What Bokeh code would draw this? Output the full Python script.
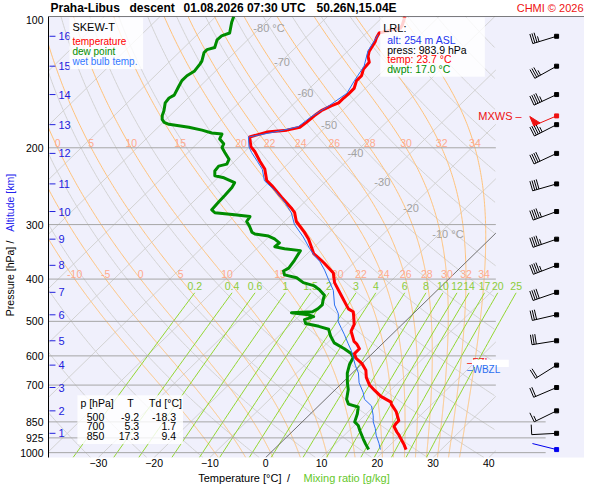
import numpy as np
from bokeh.plotting import figure
from bokeh.layouts import column, row
from bokeh.models import Range1d, FixedTicker, Label, BoxAnnotation, Span
from bokeh.core.properties import value
from bokeh.embed import file_html
from bokeh.resources import INLINE

# ---------------- data ----------------
t_p = [100, 104.7, 106.3, 109.1, 111.9, 114.3, 120.3, 123.4, 127.3, 131.9,
       136.7, 140.3, 146.2, 150.0, 153.8, 157.8, 160.3, 164.4, 168.7, 174.9,
       179.4, 182.2, 184.1, 188.9, 198.8, 204.0, 214.7, 223.7, 237.9, 244.1,
       259.6, 274.7, 281.8, 295.1, 312.2, 323.6, 349.5, 362.2, 367.9, 387.3,
       407.6, 435.6, 468.1, 475.4, 482.8, 500.0, 508.2, 526.8, 556.0, 563.0,
       577.7, 592.7, 608.0, 625.0, 647.0, 672.0, 700.0, 720.0, 742.8, 766.0,
       773.9, 806.0, 845.0, 857.7, 871.0, 898.0, 912.0, 959.8, 983.9]
t_T = [-56.1, -55.0, -54.8, -57.7, -57.3, -56.8, -56.1, -55.4, -54.1, -53.9,
       -53.0, -53.0, -52.0, -52.0, -52.1, -52.1, -52.9, -53.8, -54.1, -54.3,
       -54.6, -56.4, -59.6, -61.8, -59.8, -58.2, -55.5, -53.2, -50.7, -48.9,
       -45.0, -41.3, -39.8, -37.9, -34.5, -32.5, -28.9, -26.3, -25.2, -21.8,
       -19.8, -16.3, -12.5, -11.1, -10.5, -9.2, -8.6, -7.9, -5.5, -4.6,
       -3.2, -3.2, -2.0, 0.0, 1.9, 3.3, 5.3, 7.2, 9.4, 12.3,
       12.7, 15.0, 17.1, 17.1, 17.3, 18.9, 19.8, 22.5, 23.7]

td_p = [100, 103.1, 109.1, 110.8, 113.1, 117.8, 119.1, 120.9, 126.6, 128.6,
        133.3, 136.7, 140.3, 144.7, 151.5, 153.8, 157.8, 164.4, 168.7, 172.2,
        174.9, 176.7, 179.4, 182.2, 185.0, 186.0, 190.9, 195.8, 199.8, 205.0,
        212.5, 218.0, 220.3, 226.0, 231.9, 234.3, 240.4, 246.6, 257.0, 266.3,
        277.5, 281.8, 284.7, 287.6, 295.1, 302.7, 312.2, 315.4, 318.7, 323.6,
        330.4, 337.2, 340.7, 344.2, 362.2, 377.4, 383.2, 391.2, 397.2, 407.6,
        414.0, 422.5, 435.6, 444.6, 458.6, 468.1, 475.4, 477.8, 482.8, 487.7,
        495.3, 505.5, 513.3, 521.3, 540.3, 560.1, 577.7, 592.7, 605.0, 627.1,
        656.9, 691.4, 716.6, 754.4, 773.9, 785.9, 814.6, 850.0, 866.3, 893.3,
        930.7, 954.9, 983.9]
td_T = [-86.8, -86.1, -84.5, -85.4, -85.5, -84.5, -85.5, -85.5, -84.3, -84.1,
        -83.8, -84.3, -84.3, -83.8, -83.0, -83.4, -83.2, -82.0, -81.4, -80.7,
        -79.8, -78.6, -74.5, -71.6, -69.3, -67.3, -66.8, -65.2, -64.8, -63.4,
        -61.4, -60.9, -62.0, -61.8, -60.9, -58.9, -56.1, -55.7, -55.5, -55.4,
        -55.2, -54.1, -50.2, -47.1, -46.8, -45.4, -43.9, -43.0, -40.2, -38.6,
        -37.0, -37.1, -35.0, -31.8, -31.1, -30.7, -31.1, -30.2, -27.5, -25.4,
        -23.0, -21.3, -19.3, -18.8, -17.9, -18.0, -18.4, -22.0, -18.6, -17.3,
        -18.4, -17.5, -14.6, -12.3, -10.7, -8.8, -5.9, -3.8, -2.7, -2.1,
        -0.9, 0.9, 2.3, 3.8, 5.0, 7.3, 8.4, 9.4, 10.7, 12.1,
        14.1, 15.4, 17.0]

tw_p = [110, 120, 130, 140, 150, 160, 170, 179, 183, 189,
        199, 205, 215, 224, 238, 250.4, 266.3, 281.8, 299.7, 320.3,
        340.7, 353.1, 364.1, 381.4, 401.4, 424.6, 458.6, 480.3, 500.5, 518.6,
        535, 563, 583.6, 608, 630.4, 656.9, 691.4, 727.6, 754.4, 781.6,
        823, 849.5, 880, 912, 952, 983.9]
tw_T = [-57.6, -56.4, -54.3, -53.4, -52.4, -53.3, -54.5, -55.0, -57.5, -62.0,
        -60.1, -58.6, -55.9, -53.6, -51.1, -47.5, -43.6, -40.4, -37.7, -33.8,
        -30.5, -28.4, -26.4, -23.9, -21.4, -18.6, -15.7, -13.4, -12.0, -10.2,
        -8.6, -6.1, -4.3, -2.5, -0.9, 1.1, 3.0, 5.5, 7.0, 9.5,
        11.6, 12.7, 14.3, 15.7, 17.7, 19.1]

alt_km = [1, 2, 3, 4, 5, 6, 7, 8, 9, 10, 11, 12, 13, 14, 15, 16]
alt_p = [903, 802, 709, 630, 554, 483, 429, 372, 324, 280, 242, 206, 177, 151, 130, 111]

wind_p = [984, 903, 802, 709, 630, 554, 483, 429, 372, 324, 280, 242, 206, 177, 151, 130, 111]
wind_dir = [284, 267, 244, 247, 238, 261, 257, 251, 249, 251, 250, 254, 245, 243, 245, 241, 253]
wind_kt = [3, 10, 15, 20, 20, 30, 30, 40, 45, 45, 45, 40, 40, 45, 45, 35, 35]
mxws_p, mxws_dir, mxws_kt = 169, 247, 50

fzl_p = 620
wbzl_p = 646

pres_ticks = [100, 200, 300, 400, 500, 600, 700, 850, 925, 1000]
isobar_short = [200, 300, 400, 500, 600, 700]
isobar_long = [850, 925, 1000]
temp_ticks = [-30, -20, -10, 0, 10, 20, 30, 40]
isotherm_T = list(range(-130, 50, 10))
iso_lab_T = [-80, -70, -60, -50, -40, -30, -20, -10]
iso_lab_txt = ["-80 °C", "-70", "-60", "-50", "-40", "-30", "-20", "-10 °C"]
iso_lab_p = [106, 127, 150, 177, 206, 239, 275, 315]
dry_theta = list(range(220, 470, 10))
moist_thw = [-10, -5, 0, 5, 10, 15, 20, 22, 24, 26, 28, 30, 32, 34]
mix_w = [0.2, 0.4, 0.6, 1, 1.5, 2, 3, 4, 6, 8, 10, 12, 14, 17, 20, 25]
mix_txt = ["0.2", "0.4", "0.6", "1", "1.5", "2", "3", "4", "6", "8", "10", "12", "14", "17", "20", "25"]

tab_p = ["500", "700", "850"]
tab_T = ["-9.2", "5.3", "17.3"]
tab_Td = ["-18.3", "1.7", "9.4"]

title_parts = ["Praha-Libus", "descent", "01.08.2026 07:30 UTC", "50.26N,15.04E"]

# ---------------- geometry ----------------
FONT = "Liberation Sans"
PB = 1025.97
LPB = float(np.log10(PB))
K = 449.0 / 5.6
TOTW = 584
HEAD_H, FOOT_H = 15, 13
LEFT_W = 17
MW = TOTW - LEFT_W
MH = 484 - HEAD_H - FOOT_H
BL, BT, BB = 46 - LEFT_W, 1, 14
FW, FH = MW - BL, MH - BT - BB
X0 = (46 - 264) / 5.6
X1 = (TOTW - 264) / 5.6
XS = (495 - 264) / 5.6
XL = (545 - 264) / 5.6
PXX = FW / (X1 - X0)
PXY = FH / (LPB - 2.0)
FTOP = HEAD_H + BT


def skx(T, pp):
    return np.asarray(T, float) + K * (LPB - np.log10(np.asarray(pp, float)))


def ly(pp):
    return np.log10(np.asarray(pp, float))


def DX(xr):
    return (xr - 264) / 5.6


def DY(yr):
    return 2.0 + (yr - 16) / 449.0


def YP(yr):
    return FTOP + (yr - 16) * FH / 454.0


def blank(w, h, xr, yr):
    f = figure(width=w, height=h, x_range=Range1d(*xr), y_range=Range1d(*yr),
               output_backend="svg", toolbar_location=None, min_border=0,
               x_axis_location=None, y_axis_location=None)
    f.outline_line_color = None
    f.grid.visible = False
    f.background_fill_color = "white"
    f.border_fill_color = "white"
    return f


p = figure(width=MW, height=MH, x_range=Range1d(X0, X1), y_range=Range1d(LPB, 2.0),
           output_backend="svg", toolbar_location=None,
           min_border_left=BL, min_border_right=0, min_border_top=BT, min_border_bottom=BB)
p.background_fill_color = "#f0f0fc"
p.border_fill_color = "white"
p.outline_line_color = None
p.grid.visible = False

for ax in (p.xaxis, p.yaxis):
    ax.major_tick_out = 0
    ax.major_tick_in = 0
    ax.minor_tick_out = 0
    ax.minor_tick_in = 0
    ax.major_tick_line_color = None
    ax.minor_tick_line_color = None
    ax.major_label_text_font = FONT
    ax.major_label_text_font_size = "10.5px"
    ax.major_label_text_color = "black"

p.xaxis.ticker = FixedTicker(ticks=temp_ticks)
p.xaxis.axis_line_color = None
p.xaxis.major_label_standoff = 1

yt = [float(v) for v in ly(pres_ticks)]
p.yaxis.ticker = FixedTicker(ticks=yt)
p.yaxis.major_label_overrides = {t: str(v) for t, v in zip(yt, pres_ticks)}
p.yaxis.axis_line_color = "black"
p.yaxis.major_label_standoff = 5

# ---------------- background lines ----------------
GRAY = "#d2d2d2"
xs, ys = [], []
for T in isotherm_T:
    if T == 0 or T > XS:
        continue
    top = max(LPB - (XS - T) / K, 2.0)
    pp = np.array([PB, 10 ** top])
    xs.append(list(skx(T, pp)))
    ys.append(list(ly(pp)))
p.multi_line(xs, ys, line_color=GRAY, line_width=1)

pg = np.geomspace(PB, 100, 300)
xs, ys = [], []
for th in dry_theta:
    T = th * (pg / 1000.0) ** 0.2857 - 273.15
    X = skx(T, pg)
    X = np.where(X > XS, np.nan, X)
    xs.append(list(X))
    ys.append(list(ly(pg)))
p.multi_line(xs, ys, line_color=GRAY, line_width=1)


def pseudo(thw):
    Rd, Cp, Lv, eps = 287.04, 1005.7, 2.501e6, 0.622

    def f(T, pp):
        es = 6.112 * np.exp(17.67 * (T - 273.15) / (T - 29.65))
        rs = eps * es / (pp - es)
        return (Rd * T + Lv * rs) / (Cp + Lv * Lv * rs * eps / (Rd * T * T)) / pp

    def integ(ps):
        T = np.array(thw, float) + 273.15
        out = [T.copy()]
        for i in range(len(ps) - 1):
            p0 = ps[i]
            h = ps[i + 1] - p0
            k1 = f(T, p0)
            k2 = f(T + 0.5 * h * k1, p0 + 0.5 * h)
            k3 = f(T + 0.5 * h * k2, p0 + 0.5 * h)
            k4 = f(T + h * k3, p0 + h)
            T = T + h * (k1 + 2 * k2 + 2 * k3 + k4) / 6.0
            out.append(T.copy())
        return np.array(out)

    up_p = np.linspace(1000, 100, 451)
    dn_p = np.linspace(1000, PB, 14)
    up = integ(up_p)
    dn = integ(dn_p)
    ps = np.concatenate([dn_p[::-1], up_p[1:]])
    Ts = np.concatenate([dn[::-1], up[1:]]) - 273.15
    return ps, Ts


mp, mT = pseudo(moist_thw)
xs, ys = [], []
lab200x, lab400x = [], []
for j, th in enumerate(moist_thw):
    X = skx(mT[:, j], mp)
    lpv = ly(mp)
    lab200x.append(float(np.interp(np.log10(200), lpv[::-1], X[::-1])))
    lab400x.append(float(np.interp(np.log10(400), lpv[::-1], X[::-1])))
    X = np.where(X > XS, np.nan, X)
    xs.append(list(X))
    ys.append(list(lpv))
p.multi_line(xs, ys, line_color="#ffc27a", line_width=1)


def t_from_w(w, pp):
    e = w * pp / (622.0 + w)
    lg = np.log(e / 6.112)
    return 243.5 * lg / (17.67 - lg)


pm = np.geomspace(PB, 430, 40)
xs, ys, mlx = [], [], []
for w in mix_w:
    xs.append(list(skx(t_from_w(w, pm), pm)))
    ys.append(list(ly(pm)))
    mlx.append(float(skx(t_from_w(w, 430.0), 430.0)))
p.multi_line(xs, ys, line_color="#92d630", line_width=1)

p.multi_line([[X0, XS]] * len(isobar_short), [[float(ly(v))] * 2 for v in isobar_short],
             line_color="#a6a6a6", line_width=1)
p.multi_line([[X0, XL]] * len(isobar_long), [[float(ly(v))] * 2 for v in isobar_long],
             line_color="#a6a6a6", line_width=1)
p.add_layout(Span(location=2.0, dimension="width", line_color="black", line_width=1))

lp0 = max(LPB - XS / K, 2.0)
p0 = np.array([PB, 10 ** lp0])
p.line(list(skx(0, p0)), list(ly(p0)), line_color="#707070", line_width=1)

p.text(x=list(skx(iso_lab_T, iso_lab_p)), y=list(ly(iso_lab_p)), text=iso_lab_txt,
       x_offset=-7, text_align="left", text_baseline="middle",
       text_color="#a2a2a2", text_font=value(FONT), text_font_size="11px")
p.text(x=lab200x, y=[2.0 + np.log10(2.0)] * len(moist_thw), text=[str(v) for v in moist_thw],
       y_offset=-1, text_align="center", text_baseline="bottom",
       text_color="#ffaa8c", text_font=value(FONT), text_font_size="10.5px")
p.text(x=lab400x, y=[2.0 + np.log10(4.0)] * len(moist_thw), text=[str(v) for v in moist_thw],
       y_offset=-1, text_align="center", text_baseline="bottom",
       text_color="#ffaa8c", text_font=value(FONT), text_font_size="10.5px")
p.text(x=mlx, y=[float(ly(414))] * len(mix_w), text=mix_txt,
       text_align="center", text_baseline="middle",
       text_color="#8ccc3a", text_font=value(FONT), text_font_size="10.5px")

ALT = "#2222dd"
p.segment(x0=[DX(47)] * len(alt_p), y0=list(ly(alt_p)), x1=[DX(53)] * len(alt_p), y1=list(ly(alt_p)),
          line_color=ALT, line_width=1)
p.text(x=[DX(56)] * len(alt_p), y=list(ly(alt_p)), text=[str(k) for k in alt_km],
       text_align="left", text_baseline="middle", text_color=ALT,
       text_font=value(FONT), text_font_size="11px")

# ---------------- profiles ----------------
p.line(list(skx(td_T, td_p)), list(ly(td_p)), line_color="#008c00", line_width=3, line_join="round")
p.line(list(skx(t_T, t_p)), list(ly(t_p)), line_color="#ff0000", line_width=3, line_join="round")
p.line(list(skx(tw_T, tw_p)), list(ly(tw_p)), line_color="#2a6ef0", line_width=1, line_join="round")


# ---------------- wind barbs ----------------
def barb(pv, dirdeg, spd, L=25.0, sp=2.2, full=10.0, half=5.5, pen=7.0):
    xd, yd = DX(556), float(np.log10(pv))
    th = np.radians(dirdeg)
    ux, uy = np.sin(th), -np.cos(th)
    bx, by = -uy, ux

    def pt(ox, oy):
        return xd + ox / PXX, yd + oy / PXY

    ex, ey = ux * L, uy * L
    segs = [(pt(0, 0), pt(ex, ey))]
    tris = []
    n50 = int(spd // 50)
    rem = spd - 50 * n50
    n10 = int(rem // 10)
    n5 = 1 if rem - 10 * n10 >= 5 else 0
    pos = 0.0
    for _ in range(n50):
        a = (ex - ux * pos, ey - uy * pos)
        b = (ex - ux * (pos + pen), ey - uy * (pos + pen))
        apex = (a[0] + bx * full, a[1] + by * full)
        tris.append([pt(*a), pt(*apex), pt(*b)])
        pos += pen + 1.5
    for _ in range(n10):
        a = (ex - ux * pos, ey - uy * pos)
        segs.append((pt(*a), pt(a[0] + bx * full, a[1] + by * full)))
        pos += sp
    if n5:
        if n50 == 0 and n10 == 0:
            pos += sp
        a = (ex - ux * pos, ey - uy * pos)
        segs.append((pt(*a), pt(a[0] + bx * half, a[1] + by * half)))
    return (xd, yd), segs, tris


def draw_barbs(levels, color):
    x0s, y0s, x1s, y1s, dx_, dy_, txs, tys = [], [], [], [], [], [], [], []
    for (pv, d, s) in levels:
        dot, segs, tris = barb(pv, d, s)
        dx_.append(dot[0]); dy_.append(dot[1])
        for (a, b) in segs:
            x0s.append(a[0]); y0s.append(a[1]); x1s.append(b[0]); y1s.append(b[1])
        for tri in tris:
            txs.append([q[0] for q in tri]); tys.append([q[1] for q in tri])
    p.segment(x0=x0s, y0=y0s, x1=x1s, y1=y1s, line_color=color, line_width=1)
    if txs:
        p.patches(txs, tys, fill_color=color, line_color=color)
    p.scatter(dx_, dy_, marker="square", size=4, color=color)


draw_barbs([(wind_p[0], wind_dir[0], wind_kt[0])], "#0000ee")
draw_barbs(list(zip(wind_p[1:], wind_dir[1:], wind_kt[1:])), "black")
draw_barbs([(mxws_p, mxws_dir, mxws_kt)], "#ee1111")


# ---------------- annotations ----------------
def lab(fig, x, y, text, color="black", size="11px", align="left", baseline="middle",
        bold=False, angle=0.0):
    kw = dict(x=x, y=y, text=text, text_color=color, text_font_size=size,
              text_align=align, text_baseline=baseline, text_font=FONT, angle=angle)
    if bold:
        kw["text_font_style"] = "bold"
    fig.add_layout(Label(**kw))


def box(l, r, t, b, alpha=0.82):
    p.add_layout(BoxAnnotation(left=DX(l), right=DX(r), top=DY(t), bottom=DY(b),
                               fill_color="white", fill_alpha=alpha, line_color=None))


box(67, 141, 17, 70)
lab(p, DX(70), DY(27), "SKEW-T", size="11px")
lab(p, DX(70), DY(42), "temperature", color="#ff0000", size="10px")
lab(p, DX(70), DY(52), "dew point", color="#008c00", size="10px")
lab(p, DX(70), DY(62), "wet bulb temp.", color="#3377ff", size="10px")

box(379, 484, 17, 78)
lab(p, DX(382), DY(28), "LRL:", size="11px")
lab(p, DX(386), DY(40), "alt: 254 m ASL", color="#2233ee", size="10.5px")
lab(p, DX(386), DY(50), "press: 983.9 hPa", size="10.5px")
lab(p, DX(386), DY(60), "temp: 23.7 °C", color="#ff0000", size="10.5px")
lab(p, DX(386), DY(70), "dwpt: 17.0 °C", color="#008c00", size="10.5px")

box(75, 181, 406, 456)
lab(p, DX(78), DY(414), "p [hPa]", size="10.5px")
lab(p, DX(125), DY(414), "T", size="10.5px")
lab(p, DX(147), DY(414), "Td [°C]", size="10.5px")
for i in range(3):
    yy = DY(428 + 10 * i)
    lab(p, DX(102), yy, tab_p[i], size="10.5px", align="right")
    lab(p, DX(137), yy, tab_T[i], size="10.5px", align="right")
    lab(p, DX(174), yy, tab_Td[i], size="10.5px", align="right")

lab(p, DX(521), float(np.log10(mxws_p)), "MXWS –", color="#ee1111", size="11px", align="right")

lab(p, DX(466), float(np.log10(fzl_p)), "–FZL", color="#ee1111", size="10px")
p.add_layout(BoxAnnotation(left=DX(471), right=DX(508),
                           top=float(np.log10(fzl_p)) - 2.5 / 449, bottom=float(np.log10(fzl_p)) + 5 / 449,
                           fill_color="white", fill_alpha=1.0, line_color=None))
lab(p, DX(466), float(np.log10(wbzl_p)), "–WBZL", color="#2a6ef0", size="10px")

# ---------------- title strip (text glyphs) ----------------
head = blank(TOTW, HEAD_H, (0, TOTW), (HEAD_H, 0))
TY = HEAD_H / 2.0
head.text(x=[50, 129, 183, 316], y=[TY] * 4, text=title_parts,
          text_align="left", text_baseline="middle", text_color="black",
          text_font=value(FONT), text_font_size="12px", text_font_style="bold")
head.text(x=[583], y=[TY], text=["CHMI © 2026"],
          text_align="right", text_baseline="middle", text_color="#ee1111",
          text_font=value(FONT), text_font_size="11px")

# ---------------- left title strip ----------------
left = blank(LEFT_W, MH, (0, LEFT_W), (HEAD_H + MH, HEAD_H))
left.text(x=[9, 9], y=[YP(334), YP(244)], text=["Pressure [hPa]", "Altitude [km]"],
          angle=np.pi / 2, text_align="left", text_baseline="middle",
          text_color=["black", "#2222ee"], text_font=value(FONT), text_font_size="10.5px")
left.text(x=[9], y=[YP(255)], text=["/"], angle=np.pi / 2, text_align="center",
          text_baseline="middle", text_color="black", text_font=value(FONT), text_font_size="10.5px")

# ---------------- bottom title strip ----------------
foot = blank(TOTW, FOOT_H, (0, TOTW), (484, 484 - FOOT_H))
FY = 484 - FOOT_H / 2.0
foot.text(x=[281], y=[FY], text=["Temperature [°C]"], text_align="right", text_baseline="middle",
          text_color="black", text_font=value(FONT), text_font_size="11px")
foot.text(x=[288], y=[FY], text=["/"], text_align="center", text_baseline="middle",
          text_color="black", text_font=value(FONT), text_font_size="11px")
foot.text(x=[303], y=[FY], text=["Mixing ratio [g/kg]"], text_align="left", text_baseline="middle",
          text_color="#66c82a", text_font=value(FONT), text_font_size="11px")

layout = column(head, row(left, p), foot)
open("out.html", "w").write(file_html(layout, INLINE))
